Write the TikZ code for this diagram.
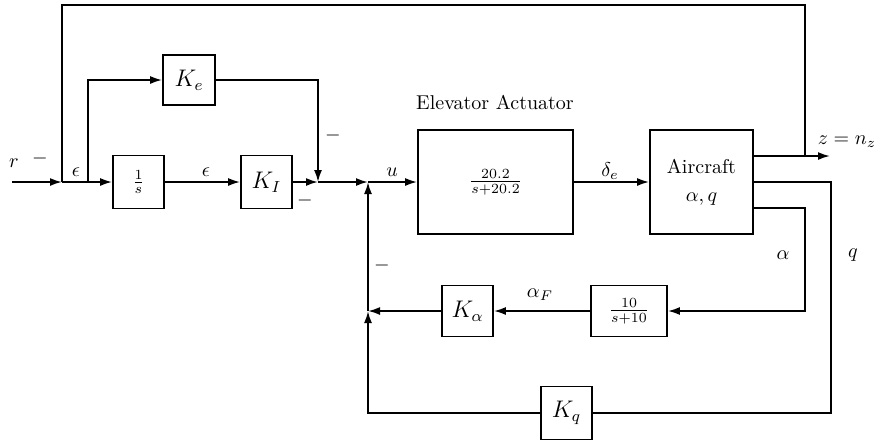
\documentclass[tikz,border=0pt]{standalone}
\usepackage{amsmath}
\usepackage{tikz}
\usetikzlibrary{arrows.meta, positioning, calc}

\begin{document}
\begin{tikzpicture}[x=0.5pt, y=-0.5pt, line width=0.9pt,
    blk/.style={draw, inner sep=0pt, align=center},
    sig/.style={-{Latex[length=6pt,width=4pt]}},
    lbl/.style={inner sep=1pt}]
    \useasboundingbox (0,0) rectangle (878,441);

    % blocks
    \node[blk, minimum width=26pt, minimum height=25pt] (Ke) at (189,80) {\large $K_e$};
    \node[blk, minimum width=25.5pt, minimum height=26.5pt] (integ) at (138.5,182) {$\frac{1}{s}$};
    \node[blk, minimum width=25.5pt, minimum height=26.5pt] (KI) at (266.5,182) {\large $K_I$};
    \node[blk, minimum width=77.5pt, minimum height=52pt] (act) at (495.5,182) {$\frac{20.2}{s+20.2}$};
    \node[blk, minimum width=51.5pt, minimum height=52pt] (ac) at (701.5,182) {Aircraft\\[2pt]$\alpha, q$};
    \node[blk, minimum width=38pt, minimum height=25.5pt] (filt) at (629,311) {$\frac{10}{s+10}$};
    \node[blk, minimum width=25.5pt, minimum height=25.5pt] (Ka) at (467.5,311) {\large $K_\alpha$};
    \node[blk, minimum width=25.5pt, minimum height=26.5pt] (Kq) at (566.5,413) {\large $K_q$};

    % junctions
    \coordinate (in) at (12,182);
    \coordinate (s1) at (62,182);
    \coordinate (br) at (88,182);
    \coordinate (s2) at (318,182);
    \coordinate (s3) at (368,182);
    \coordinate (s4) at (368,311);
    \coordinate (top) at (62,5);
    \coordinate (ztap) at (805,156);
    \coordinate (zout) at (830,156);
    \coordinate (atap) at (805,208);
    \coordinate (qtap) at (831,182);

    % forward path
    \draw[sig] (in) -- (s1);
    \draw[sig] (s1) -- (integ);
    \draw[sig] (br) |- (Ke);
    \draw[sig] (Ke) -| (s2);
    \draw[sig] (integ) -- (KI);
    \draw[sig] (KI) -- (s2);
    \draw[sig] (s2) -- (s3);
    \draw[sig] (s3) -- (act);
    \draw[sig] (act) -- (ac);
    \draw[sig] (ac.east |- zout) -- (zout);

    % feedback paths
    \draw (ztap) |- (top) -- (s1);
    \draw[sig] (ac.east |- atap) -- (atap) |- (filt);
    \draw[sig] (filt) -- (Ka);
    \draw[sig] (Ka) -- (s4);
    \draw[sig] (s4) -- (s3);
    \draw (ac.east |- qtap) -- (qtap) |- (Kq);
    \draw[sig] (Kq) -| (s4);

    % labels
    \node[lbl] (rlbl) at (14,163) {$r$};
    \foreach \p/\n in {{(40,158)}/m1, {(333,135)}/m2, {(305,200)}/m3, {(382,265)}/m4}
        \node[lbl] (\n) at \p {$-$};
    \node[lbl] (e1) at (76,172) {$\epsilon$};
    \node[lbl] (e2) at (206,172) {$\epsilon$};
    \node[lbl] (ulbl) at (392,172) {$u$};
    \node[lbl] (dlbl) at (610,171) {$\delta_e$};
    \node[lbl, anchor=west] (zlbl) at (815,142) {$z = n_z$};
    \node[lbl] (albl) at (783,255) {$\alpha$};
    \node[lbl] (qlbl) at (853,255) {$q$};
    \node[lbl] (aflbl) at (540,295) {$\alpha_F$};
    \node[lbl] (actlbl) at (495,102) {Elevator Actuator};
\end{tikzpicture}
\end{document}
